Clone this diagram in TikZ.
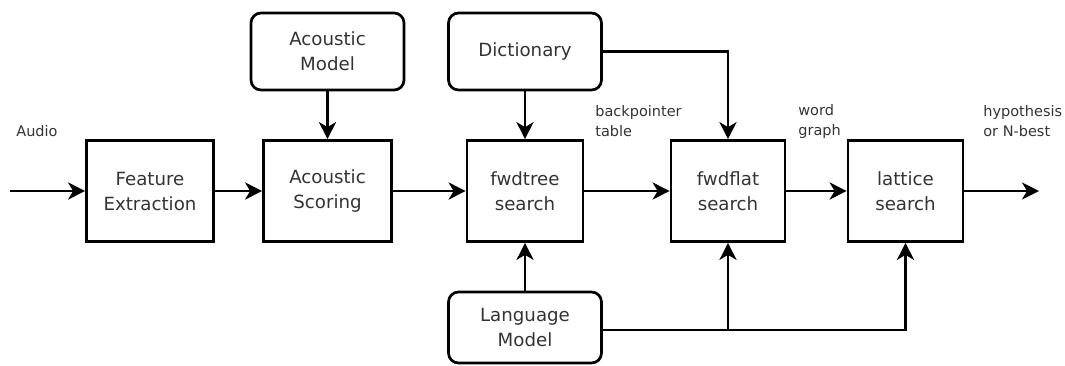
\documentclass[tikz,border=0pt]{standalone}
\usepackage{fontspec}
\setmainfont{DejaVu Sans}
\usetikzlibrary{arrows.meta}
\definecolor{txt}{gray}{0.2}
\begin{document}
\begin{tikzpicture}[x=1pt,y=-1pt,
  line width=2.7pt,
  block/.style={draw=black, rectangle, minimum width=#1, minimum height=101pt, inner sep=0pt,
    align=center, text=txt, font=\fontsize{18.2}{25}\selectfont},
  source/.style={draw=black, rectangle, rounded corners=10pt, minimum width=153pt, inner sep=0pt,
    align=center, text=txt, font=\fontsize{18.2}{25}\selectfont},
  lab/.style={anchor=west, align=left, text=txt, inner sep=0pt, font=\fontsize{14.5}{20}\selectfont},
  arr/.style={-{Stealth[length=17pt,width=17pt,inset=5pt]}, line width=2.7pt}
]
\useasboundingbox (0,0) rectangle (1065,365);
\node[block=127pt] (fe) at (150,191) {Feature\\Extraction};
\node[block=128pt] (as) at (327.5,191) {Acoustic\\Scoring};
\node[block=116pt] (ft) at (525,191) {fwdtree\\search};
\node[block=114pt] (ff) at (728,191) {fwdflat\\search};
\node[block=115pt] (la) at (905.5,191) {lattice\\search};
\node[source, minimum height=77pt] (am) at (327.5,51.5) {Acoustic\\Model};
\node[source, minimum height=77pt] (di) at (525,51.5) {Dictionary};
\node[source, minimum height=71pt] (lm) at (525,327.5) {Language\\Model};
\coordinate (in) at (10,191);
\coordinate (out) at (1039,191);
\node[lab] (audio) at (15,131) {Audio};
\node[lab] (bp) at (594,121) {backpointer\\table};
\node[lab] (wg) at (797,121) {word\\graph};
\node[lab] (hy) at (982,121) {hypothesis\\or N-best};
\draw[arr] (in) -- (fe.west);
\draw[arr] (fe.east) -- (as.west);
\draw[arr] (as.east) -- (ft.west);
\draw[arr] (ft.east) -- (ff.west);
\draw[arr] (ff.east) -- (la.west);
\draw[arr] (la.east) -- (out);
\draw[arr] (am.south) -- (as.north);
\draw[arr] (di.south) -- (ft.north);
\draw[arr] (di.east) -| (ff.north);
\draw[arr] (lm.north) -- (ft.south);
\coordinate (lmr) at ([yshift=-2.5pt]lm.east);
\draw[arr] (lmr) -| (la.south);
\draw[arr] (lmr -| ff.south) -- (ff.south);
\end{tikzpicture}
\end{document}
